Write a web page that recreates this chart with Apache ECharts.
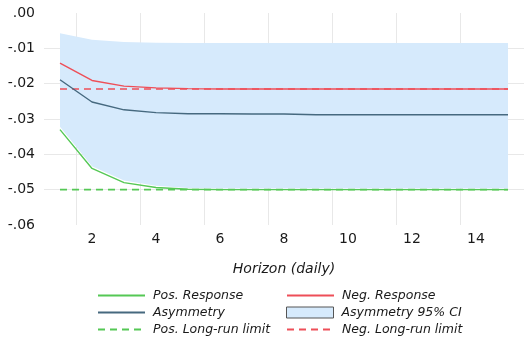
<!DOCTYPE html>
<html><head><meta charset="utf-8">
<script src="https://cdn.jsdelivr.net/npm/echarts@6/dist/echarts.min.js"></script>
<style>html,body{margin:0;padding:0;background:#fff}#c{width:524px;height:341px}</style>
</head><body><div id="c"></div>
<script>
const horizons = ['1','2','3','4','5','6','7','8','9','10','11','12','13','14','15'];
const posResponse = [-0.0330,-0.0440,-0.0480,-0.0494,-0.0499,-0.0500,-0.0500,-0.0500,-0.0500,-0.0500,-0.0500,-0.0500,-0.0500,-0.0500,-0.0500];
const negResponse = [-0.0142,-0.0191,-0.0207,-0.0212,-0.0214,-0.0215,-0.0215,-0.0215,-0.0215,-0.0215,-0.0215,-0.0215,-0.0215,-0.0215,-0.0215];
const asymmetry   = [-0.0189,-0.0252,-0.0274,-0.0282,-0.0285,-0.0285,-0.0286,-0.0286,-0.0288,-0.0288,-0.0288,-0.0288,-0.0288,-0.0288,-0.0288];
const ciUpper     = [-0.0057,-0.0076,-0.0082,-0.0084,-0.0085,-0.0085,-0.0085,-0.0085,-0.0085,-0.0085,-0.0085,-0.0085,-0.0085,-0.0085,-0.0085];
const ciLower     = [-0.0322,-0.0434,-0.0474,-0.0489,-0.0495,-0.0497,-0.0497,-0.0497,-0.0497,-0.0497,-0.0497,-0.0497,-0.0497,-0.0497,-0.0497];
const posLongRun = -0.0500;
const negLongRun = -0.0215;
const yTicks = [0,-0.01,-0.02,-0.03,-0.04,-0.05,-0.06];
const legendLeft  = ['Pos. Response','Asymmetry','Pos. Long-run limit'];
const legendRight = ['Neg. Response','Asymmetry 95% CI','Neg. Long-run limit'];

const green = '#55c855', red = '#ee4f58', slate = '#46697f', band = '#d6eafc';
const ciSpan = ciUpper.map((u,i)=>+(u-ciLower[i]).toFixed(5));
const font = 'DejaVu Sans';

const legendText = {fontSize:12.5, fontStyle:'italic', color:'#1a1a1a', fontFamily:font, padding:[0,0,0,3]};
const legends = [];
[legendLeft, legendRight].forEach((col, ci)=>{
  col.forEach((name, ri)=>{
    const item = name==='Asymmetry 95% CI'
      ? {name, icon:'rect', itemStyle:{color:band, borderColor:'#555', borderWidth:1, opacity:1}}
      : name;
    legends.push({orient:'horizontal', left: ci===0?97:286, top: 289 + ri*17,
      itemWidth:47, itemHeight:11, padding:0, itemStyle:{opacity:0},
      textStyle:legendText, selectedMode:false, data:[item]});
  });
});

const chart = echarts.init(document.getElementById('c'));
chart.setOption({
  animation:false,
  textStyle:{fontFamily:font},
  grid:{left:44, right:-3, top:13, bottom:116},
  xAxis:{type:'category', data:horizons, boundaryGap:true,
    axisLine:{show:false}, axisTick:{show:false},
    axisLabel:{interval:(i)=>i%2===1, margin:7, fontSize:14, color:'#1a1a1a', fontFamily:font},
    splitLine:{show:true, interval:(i)=>i%2===1, lineStyle:{color:'#e8e8e8', width:1}},
    name:'Horizon (daily)', nameLocation:'middle', nameGap:37,
    nameTextStyle:{fontSize:14, fontStyle:'italic', color:'#1a1a1a', fontFamily:font}},
  yAxis:{type:'value', min:yTicks[yTicks.length-1], max:yTicks[0], interval:0.01,
    axisLine:{show:false}, axisTick:{show:false},
    axisLabel:{margin:9, fontSize:14, color:'#1a1a1a', fontFamily:font,
      formatter:(v)=>{const s=Math.abs(v).toFixed(2).replace(/^0/,''); return (v< -1e-9?'-':'')+s;}},
    splitLine:{show:true, lineStyle:{color:['transparent','#e8e8e8','#e8e8e8','#e8e8e8','#e8e8e8','#e8e8e8','transparent'], width:1}}},
  legend:legends,
  series:[
    {name:'ciLow', type:'line', stack:'ci', stackStrategy:'all', data:ciLower, symbol:'none', lineStyle:{width:0, opacity:0}, silent:true, z:1},
    {name:'Asymmetry 95% CI', type:'line', stack:'ci', stackStrategy:'all', data:ciSpan, symbol:'none', lineStyle:{width:0, opacity:0}, areaStyle:{color:band, opacity:1}, itemStyle:{color:band}, z:1},
    {name:'Pos. Long-run limit', type:'line', data:horizons.map(()=>posLongRun), symbol:'none', lineStyle:{color:green, width:1.6, type:[7,5]}, itemStyle:{color:green}, z:3},
    {name:'Neg. Long-run limit', type:'line', data:horizons.map(()=>negLongRun), symbol:'none', lineStyle:{color:red, width:1.6, type:[7,5]}, itemStyle:{color:red}, z:3},
    {name:'Pos. Response', type:'line', data:posResponse, symbol:'none', lineStyle:{color:green, width:1.4}, itemStyle:{color:green}, z:4},
    {name:'Neg. Response', type:'line', data:negResponse, symbol:'none', lineStyle:{color:red, width:1.4}, itemStyle:{color:red}, z:4},
    {name:'Asymmetry', type:'line', data:asymmetry, symbol:'none', lineStyle:{color:slate, width:1.4}, itemStyle:{color:slate}, z:4}
  ]
});
</script></body></html>
